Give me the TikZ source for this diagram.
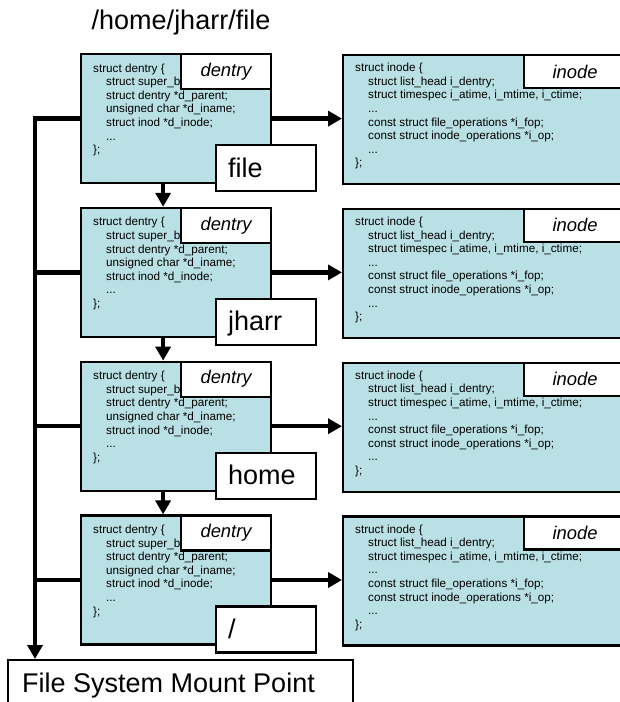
\documentclass[tikz,border=0pt]{standalone}
\usepackage{fontspec}
\setmainfont{Liberation Sans}
\usetikzlibrary{arrows.meta}
\definecolor{boxfill}{RGB}{185,224,228}
\newcommand{\codefont}{\fontsize{11.7}{13.6}\selectfont}
\newcommand{\tagfont}{\fontsize{18.4}{22}\selectfont\itshape}
\newcommand{\namefont}{\fontsize{27}{32}\selectfont}
\newcommand{\titlefont}{\fontsize{27}{31}\selectfont}
\newcommand{\codeind}{\hspace*{13pt}}
\newcommand{\slashname}{/}
\newcommand{\dentrycode}{struct dentry \{\\\codeind struct super\_b\\\codeind struct dentry *d\_parent;\\\codeind unsigned char *d\_iname;\\\codeind struct inod *d\_inode;\\\codeind ...\\\};}
\newcommand{\inodecode}{struct inode \{\\\codeind struct list\_head i\_dentry;\\\codeind struct timespec i\_atime, i\_mtime, i\_ctime;\\\codeind ...\\\codeind const struct file\_operations *i\_fop;\\\codeind const struct inode\_operations *i\_op;\\\codeind ...\\\};}
\begin{document}
\begin{tikzpicture}[x=1pt,y=-1pt,
  structbox/.style={draw=black, line width=2.2pt, fill=boxfill, rectangle, inner sep=0pt, anchor=north west},
  tagbox/.style={draw=black, line width=2.2pt, fill=white, rectangle, inner sep=0pt, anchor=north west},
  code/.style={anchor=north west, align=left, inner sep=0pt, font=\codefont},
  conn/.style={line width=4.5pt, -{Triangle[length=14pt,width=15pt]}},
  trunkline/.style={line width=4.5pt}]
\useasboundingbox (0,0) rectangle (620,702);
\node[anchor=base, inner sep=0pt, font=\titlefont] (title) at (181,29) {/home/jharr/file};
\foreach \r/\name in {0/file,1/jharr,2/home,3/\slashname}{
  \pgfmathsetmacro\T{53+\r*153.8}
  \node[structbox, minimum width=190pt, minimum height=129pt] (d\r) at (80,\T) {};
  \node[code] (dc\r) at (93,\T+10.5) {\dentrycode};
  \node[tagbox, minimum width=90pt, minimum height=35pt, font=\tagfont] (dt\r) at (180,\T) {dentry};
  \node[tagbox, minimum width=100pt, minimum height=46pt] (n\r) at (215,\T+91) {};
  \node[anchor=base west, inner sep=0pt, font=\namefont] (nl\r) at (228,\T+124) {\name};
  \node[structbox, minimum width=283pt, minimum height=129pt] (i\r) at (342,\T+1) {};
  \node[code] (ic\r) at (355,\T+10) {\inodecode};
  \node[tagbox, minimum width=102pt, minimum height=33pt, font=\tagfont] (it\r) at (523,\T+1) {inode};
  \draw[conn] (d\r.east) -- (d\r.east -| i\r.west);
}
\foreach \r/\n in {0/1,1/2,2/3}{
  \draw[conn] ([xshift=-13pt]d\r.south) -- ([xshift=-13pt]d\n.north);
}
\node[draw=black, line width=2.2pt, fill=white, anchor=north west, inner sep=0pt, minimum width=345pt, minimum height=55pt] (m) at (7,659) {};
\node[anchor=base west, inner sep=0pt, font=\namefont] (ml) at (22,692) {File System Mount Point};
\coordinate (trunk) at (35,117);
\draw[conn] (d0.west) -- (d0.west -| trunk) -- (trunk |- m.north);
\foreach \r in {1,2,3}{
  \draw[trunkline] (d\r.west) -- (d\r.west -| trunk);
}
\end{tikzpicture}
\end{document}
